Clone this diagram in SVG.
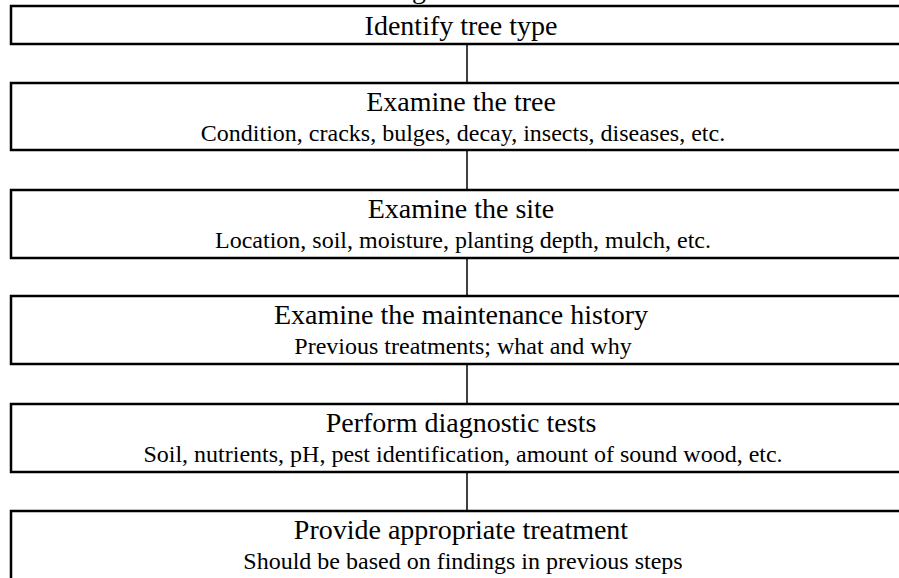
<svg xmlns="http://www.w3.org/2000/svg" width="899" height="578" viewBox="0 0 899 578">
<style>
.box{fill:#fff;stroke:#000;stroke-width:2.5}
.t{font-family:"Liberation Serif","Times New Roman",serif;font-size:28px;fill:#000;text-anchor:middle}
.s{font-family:"Liberation Serif","Times New Roman",serif;font-size:24px;fill:#000;text-anchor:middle}
.c{stroke:#000;stroke-width:1.5;fill:none}
</style>
<rect width="899" height="578" fill="#fff"/>
<text class="t" x="419" y="-2">g</text>
<g id="connectors">
<line class="c" x1="467" y1="44" x2="467" y2="83"/>
<line class="c" x1="467" y1="150" x2="467" y2="190"/>
<line class="c" x1="467" y1="258" x2="467" y2="296"/>
<line class="c" x1="467" y1="364" x2="467" y2="404"/>
<line class="c" x1="467" y1="472" x2="467" y2="511"/>
</g>
<g id="n1"><rect class="box" x="11" y="6" width="920" height="38"/><text class="t" x="461" y="35">Identify tree type</text></g>
<g id="n2"><rect class="box" x="11" y="83" width="920" height="67"/><text class="t" x="461" y="111">Examine the tree</text><text class="s" x="463" y="141">Condition, cracks, bulges, decay, insects, diseases, etc.</text></g>
<g id="n3"><rect class="box" x="11" y="190" width="920" height="68"/><text class="t" x="461" y="218">Examine the site</text><text class="s" x="463" y="248">Location, soil, moisture, planting depth, mulch, etc.</text></g>
<g id="n4"><rect class="box" x="11" y="296" width="920" height="68"/><text class="t" x="461" y="324">Examine the maintenance history</text><text class="s" x="463" y="354">Previous treatments; what and why</text></g>
<g id="n5"><rect class="box" x="11" y="404" width="920" height="68"/><text class="t" x="461" y="432">Perform diagnostic tests</text><text class="s" x="463" y="462">Soil, nutrients, pH, pest identification, amount of sound wood, etc.</text></g>
<g id="n6"><rect class="box" x="11" y="511" width="920" height="80"/><text class="t" x="461" y="539">Provide appropriate treatment</text><text class="s" x="463" y="569">Should be based on findings in previous steps</text></g>
</svg>
